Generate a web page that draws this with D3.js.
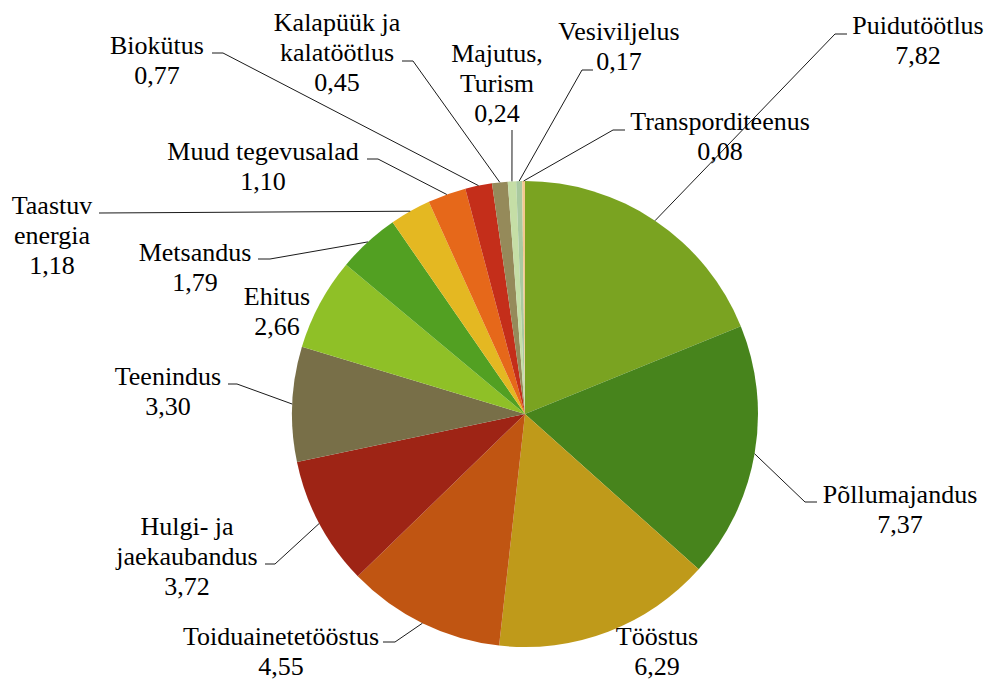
<!DOCTYPE html>
<html>
<head>
<meta charset="utf-8">
<script src="https://cdn.jsdelivr.net/npm/d3@7"></script>
<style>
  body { margin: 0; background: #fff; }
</style>
</head>
<body>
<svg id="chart"></svg>
<script>
// data, clockwise from 12 o'clock
const categories = ["Puidutöötlus", "Põllumajandus", "Tööstus", "Toiduainetetööstus",
  "Hulgi- ja jaekaubandus", "Teenindus", "Ehitus", "Metsandus", "Taastuv energia",
  "Muud tegevusalad", "Biokütus", "Kalapüük ja kalatöötlus", "Majutus, Turism",
  "Vesiviljelus", "Transporditeenus"];
const values = [7.82, 7.37, 6.29, 4.55, 3.72, 3.30, 2.66, 1.79, 1.18, 1.10, 0.77, 0.45, 0.24, 0.17, 0.08];
const colors = ["#7aa321", "#47841c", "#bf9a1a", "#c05512", "#9e2415", "#786f48", "#8fc027",
  "#52a022", "#e4b822", "#e6681a", "#c42e1a", "#958a5a", "#c5dea6", "#a9c9a0", "#f2c890"];

// how each label is wrapped
const labelLines = [["Puidutöötlus"], ["Põllumajandus"], ["Tööstus"], ["Toiduainetetööstus"],
  ["Hulgi- ja", "jaekaubandus"], ["Teenindus"], ["Ehitus"], ["Metsandus"], ["Taastuv", "energia"],
  ["Muud tegevusalad"], ["Biokütus"], ["Kalapüük ja", "kalatöötlus"], ["Majutus,", "Turism"],
  ["Vesiviljelus"], ["Transporditeenus"]];

// label placement: text centre x, first baseline y, leader elbow and end (null = no leader)
const labelLayout = [
  { x: 918, y: 34,  elbow: [835, 34],  end: [847, 34] },
  { x: 900, y: 503, elbow: [805, 502], end: [817, 502] },
  { x: 657, y: 645, elbow: null },
  { x: 281, y: 645, elbow: [395, 642], end: [383, 642] },
  { x: 187, y: 535, elbow: [275, 564], end: [265, 564] },
  { x: 168, y: 385, elbow: [237, 384], end: [228, 384] },
  { x: 277, y: 305, elbow: null },
  { x: 195, y: 261, elbow: [270, 259], end: [258, 259] },
  { x: 52,  y: 214, elbow: [99, 213],  end: [99, 213] },
  { x: 263, y: 160, elbow: [378, 159], end: [367, 159] },
  { x: 157, y: 54,  elbow: [223, 53],  end: [212, 53] },
  { x: 337, y: 31,  elbow: [413, 61],  end: [402, 61] },
  { x: 497, y: 62,  elbow: [512, 130], end: [512, 130] },
  { x: 619, y: 40,  elbow: [582, 70],  end: [593, 70] },
  { x: 720, y: 130, elbow: [613, 130], end: [625, 130] }
];

const width = 988, height = 682;
const cx = 525, cy = 414, radius = 233;
const lineHeight = 30;
const fontFamily = "'Liberation Serif', 'Times New Roman', Times, Tinos, 'Noto Serif', 'Nimbus Roman', FreeSerif, 'DejaVu Serif', serif";
const fmt = v => d3.format(".2f")(v).replace(".", ",");

const svg = d3.select("#chart").attr("width", width).attr("height", height);
const g = svg.append("g").attr("transform", `translate(${cx},${cy})`);

const pie = d3.pie().sort(null).value(d => d)(values);
const arc = d3.arc().innerRadius(0).outerRadius(radius);
const edgeArc = d3.arc().innerRadius(radius).outerRadius(radius);

g.selectAll("path.slice")
  .data(pie)
  .join("path")
  .attr("class", "slice")
  .attr("d", arc)
  .attr("fill", (d, i) => colors[i]);

// leader lines
const line = d3.line();
pie.forEach((d, i) => {
  const lay = labelLayout[i];
  if (!lay.elbow) return;
  const p = edgeArc.centroid(d);
  const pts = [[p[0] + cx, p[1] + cy], lay.elbow, lay.end];
  svg.append("path")
    .attr("d", line(pts))
    .attr("fill", "none")
    .attr("stroke", "#1a1a1a")
    .attr("stroke-width", 1);
});

// labels
pie.forEach((d, i) => {
  const lay = labelLayout[i];
  const lines = labelLines[i].concat([fmt(values[i])]);
  const t = svg.append("text")
    .attr("text-anchor", "middle")
    .attr("font-family", fontFamily)
    .attr("font-size", 26)
    .attr("fill", "#000")
    .attr("x", lay.x)
    .attr("y", lay.y);
  lines.forEach((s, k) => {
    t.append("tspan")
      .attr("x", lay.x)
      .attr("dy", k === 0 ? 0 : lineHeight)
      .text(s);
  });
});
</script>
</body>
</html>
